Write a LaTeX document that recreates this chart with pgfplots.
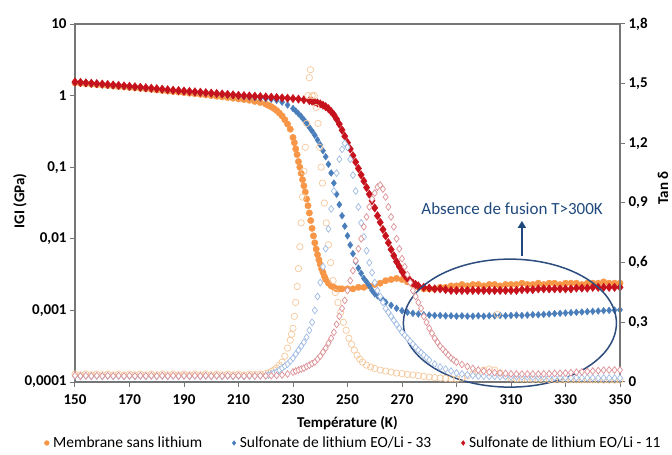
\documentclass[border=0pt]{standalone}
\usepackage{fontspec}
\setmainfont{Carlito}
\usepackage{pgfplots}
\usepackage{pgfplotstable}
\pgfplotsset{compat=1.18}
\usetikzlibrary{arrows.meta}

\definecolor{axisgray}{RGB}{118,118,118}
\definecolor{orangeG}{RGB}{247,150,70}
\definecolor{blueG}{RGB}{74,126,187}
\definecolor{redG}{RGB}{198,18,28}
\definecolor{orangeT}{RGB}{245,200,155}
\definecolor{blueT}{RGB}{160,188,228}
\definecolor{redT}{RGB}{222,145,150}
\definecolor{annot}{RGB}{31,73,125}
\definecolor{ellip}{RGB}{44,77,125}

% |G| data (GPa)
\pgfplotstableread{
T G
150 1.50
152 1.48
154 1.46
156 1.44
158 1.42
160 1.40
162 1.38
164 1.36
166 1.34
168 1.32
170 1.30
172 1.28
174 1.26
176 1.24
178 1.22
180 1.20
182 1.18
184 1.16
186 1.14
188 1.12
190 1.10
192 1.08
194 1.06
196 1.04
198 1.02
200 1.00
202 0.98
204 0.96
206 0.94
208 0.92
210 0.90
212 0.88
214 0.86
216 0.83
218 0.80
220 0.76
221 0.73
222 0.70
223 0.66
224 0.62
225 0.57
226 0.52
227 0.46
228 0.40
229 0.34
230 0.26
230.5 0.22
231 0.18
231.5 0.15
232 0.12
232.5 0.10
233 0.082
233.5 0.067
234 0.055
234.5 0.045
235 0.036
235.5 0.029
236 0.023
236.5 0.018
237 0.014
237.5 0.011
238 0.0088
238.5 0.0072
239 0.0060
239.5 0.0051
240 0.0044
240.5 0.0038
241 0.0034
241.5 0.0030
242 0.0027
243 0.0024
244 0.0022
245 0.0021
246 0.0020
247 0.0020
248 0.0020
250 0.0020
252 0.0020
254 0.0021
256 0.0021
258 0.0022
260 0.0023
262 0.0024
264 0.0026
266 0.0027
268 0.0028
270 0.0027
272 0.0025
274 0.0023
276 0.0021
278 0.0020
280 0.0020
282 0.0020
284 0.0021
286 0.0021
288 0.0022
290 0.0022
292 0.0023
294 0.0022
296 0.0023
298 0.0023
300 0.0022
302 0.0023
304 0.0023
306 0.0022
308 0.0023
310 0.0023
312 0.0023
314 0.0024
316 0.0023
318 0.0023
320 0.0024
322 0.0023
324 0.0024
326 0.0024
328 0.0023
330 0.0024
332 0.0024
334 0.0024
336 0.0023
338 0.0024
340 0.0024
342 0.0024
344 0.0025
346 0.0024
348 0.0024
350 0.0024
}\orangeG

\pgfplotstableread{
T G
150 1.52
152 1.50
154 1.48
156 1.46
158 1.44
160 1.42
162 1.40
164 1.38
166 1.36
168 1.34
170 1.32
172 1.30
174 1.28
176 1.26
178 1.245
180 1.23
182 1.21
184 1.19
186 1.175
188 1.16
190 1.14
192 1.125
194 1.11
196 1.09
198 1.075
200 1.06
202 1.045
204 1.03
206 1.015
208 1.00
210 0.985
212 0.97
214 0.955
216 0.94
218 0.925
220 0.91
222 0.89
224 0.86
226 0.81
228 0.74
230 0.66
231 0.61
232 0.56
233 0.51
234 0.46
235 0.41
236 0.36
237 0.32
238 0.28
239 0.24
240 0.205
241 0.17
242 0.14
243 0.11
244 0.083
245 0.060
246 0.042
247 0.030
248 0.021
249 0.015
250 0.011
251 0.0082
252 0.0062
253 0.0048
254 0.0039
255 0.0033
256 0.0028
257 0.0025
258 0.0022
259 0.0019
260 0.0017
261 0.0016
262 0.0015
263 0.0014
264 0.0013
266 0.00118
268 0.00107
270 0.00099
272 0.00094
274 0.00091
276 0.00089
278 0.00087
280 0.00086
282 0.00085
284 0.00085
286 0.00084
288 0.00084
290 0.00083
292 0.00084
294 0.00083
296 0.00083
298 0.00084
300 0.00083
302 0.00084
304 0.00084
306 0.00085
308 0.00084
310 0.00085
312 0.00086
314 0.00085
316 0.00086
318 0.00087
320 0.00087
322 0.00088
324 0.00089
326 0.00090
328 0.00091
330 0.00092
332 0.00093
334 0.00094
336 0.00095
338 0.00096
340 0.00097
342 0.00098
344 0.00099
346 0.00100
348 0.00101
350 0.00102
}\blueG

\pgfplotstableread{
T G
150 1.55
152 1.53
154 1.51
156 1.49
158 1.47
160 1.45
162 1.43
164 1.41
166 1.39
168 1.37
170 1.35
172 1.33
174 1.31
176 1.29
178 1.27
180 1.25
182 1.23
184 1.21
186 1.19
188 1.175
190 1.16
192 1.145
194 1.13
196 1.115
198 1.10
200 1.085
202 1.07
204 1.055
206 1.04
208 1.025
210 1.01
212 1.00
214 0.99
216 0.98
218 0.97
220 0.96
222 0.95
224 0.94
226 0.93
228 0.92
230 0.91
232 0.895
234 0.875
236 0.85
237 0.835
238 0.815
239 0.79
240 0.765
241 0.735
242 0.70
243 0.655
244 0.60
245 0.54
246 0.47
247 0.40
248 0.33
249 0.27
250 0.22
251 0.18
252 0.145
253 0.118
254 0.096
255 0.078
256 0.064
257 0.052
258 0.042
259 0.034
260 0.027
261 0.021
262 0.017
263 0.0135
264 0.011
265 0.0088
266 0.0071
267 0.0058
268 0.0048
269 0.0041
270 0.0035
271 0.0031
272 0.0028
273 0.0026
274 0.0024
275 0.0023
276 0.0022
278 0.0021
280 0.00205
282 0.0020
284 0.0020
286 0.00195
288 0.0019
290 0.0019
292 0.0019
294 0.0019
296 0.0019
298 0.0019
300 0.0019
302 0.0019
304 0.0019
306 0.0019
308 0.0019
310 0.0019
312 0.0019
314 0.00195
316 0.00195
318 0.00195
320 0.0020
322 0.0020
324 0.0020
326 0.0020
328 0.0020
330 0.0020
332 0.0020
334 0.00205
336 0.00205
338 0.00205
340 0.0021
342 0.0021
344 0.0021
346 0.0021
348 0.0021
350 0.0021
}\redG

% tan delta data
\pgfplotstableread{
T tan
150 0.040
152 0.036
154 0.040
156 0.036
158 0.040
160 0.036
162 0.040
164 0.036
166 0.040
168 0.036
170 0.040
172 0.036
174 0.040
176 0.036
178 0.040
180 0.036
182 0.040
184 0.036
186 0.040
188 0.036
190 0.040
192 0.036
194 0.040
196 0.036
198 0.040
200 0.036
202 0.040
204 0.036
206 0.040
208 0.036
210 0.040
212 0.036
214 0.040
216 0.038
218 0.040
220 0.042
221 0.046
222 0.052
223 0.060
224 0.070
225 0.085
226 0.100
227 0.130
228 0.170
229 0.210
229.5 0.240
230 0.270
230.5 0.330
231 0.400
231.5 0.480
232 0.570
232.5 0.680
233 0.800
233.5 0.930
234 1.060
234.5 1.180
235 1.300
235.5 1.440
236 1.530
236.4 1.570
237 1.440
237.8 1.440
238.5 1.380
239.2 1.300
239.8 1.180
240.3 1.080
240.8 1.000
241.5 0.900
242.2 0.800
243 0.690
243.8 0.600
244.7 0.510
245.5 0.450
246.5 0.400
247.5 0.350
248.5 0.300
249.5 0.260
250.5 0.220
251.5 0.190
252.5 0.160
253.5 0.135
254.5 0.115
255.5 0.100
257 0.085
258.5 0.075
260 0.068
262 0.060
264 0.055
266 0.050
268 0.045
270 0.042
272 0.038
274 0.035
276 0.032
278 0.028
280 0.025
282 0.022
284 0.020
286 0.018
288 0.016
290 0.015
292 0.020
294 0.030
296 0.040
298 0.050
300 0.060
302 0.065
304 0.060
305 0.340
306 0.045
308 0.030
310 0.020
312 0.016
314 0.015
316 0.015
318 0.014
320 0.014
322 0.013
324 0.013
326 0.013
328 0.012
330 0.012
332 0.012
334 0.011
336 0.011
338 0.011
340 0.011
342 0.010
344 0.010
346 0.010
348 0.010
350 0.010
}\orangeT

\pgfplotstableread{
T tan
150 0.030
152 0.028
154 0.030
156 0.028
158 0.030
160 0.028
162 0.030
164 0.028
166 0.030
168 0.028
170 0.030
172 0.028
174 0.030
176 0.028
178 0.030
180 0.028
182 0.030
184 0.028
186 0.030
188 0.028
190 0.030
192 0.028
194 0.030
196 0.028
198 0.030
200 0.028
202 0.030
204 0.028
206 0.030
208 0.028
210 0.030
212 0.028
214 0.030
216 0.030
218 0.031
220 0.032
221 0.035
222 0.040
223 0.045
224 0.050
225 0.060
226 0.070
227 0.080
228 0.090
229 0.105
230 0.120
231 0.140
232 0.160
233 0.180
234 0.200
235 0.225
236 0.260
237 0.300
238 0.360
239 0.430
240 0.500
241 0.580
242 0.670
243 0.770
244 0.870
245 0.960
246 1.050
247 1.120
248 1.170
249 1.200
250 1.180
251 1.120
252 1.040
253 0.960
254 0.880
255 0.800
256 0.730
257 0.660
258 0.600
259 0.550
260 0.500
261 0.460
262 0.430
263 0.400
264 0.370
265 0.350
266 0.330
267 0.310
268 0.290
269 0.270
270 0.250
271 0.235
272 0.220
273 0.205
274 0.190
275 0.175
276 0.160
277 0.148
278 0.135
279 0.122
280 0.110
282 0.090
284 0.075
286 0.065
288 0.055
290 0.045
292 0.040
294 0.036
296 0.033
298 0.030
300 0.029
302 0.028
304 0.028
306 0.027
308 0.027
310 0.026
312 0.026
314 0.025
316 0.025
318 0.024
320 0.024
322 0.024
324 0.023
326 0.023
328 0.023
330 0.022
332 0.022
334 0.022
336 0.021
338 0.021
340 0.021
342 0.020
344 0.020
346 0.020
348 0.020
350 0.020
}\blueT

\pgfplotstableread{
T tan
150 0.032
152 0.030
154 0.032
156 0.030
158 0.032
160 0.030
162 0.032
164 0.030
166 0.032
168 0.030
170 0.032
172 0.030
174 0.032
176 0.030
178 0.032
180 0.030
182 0.032
184 0.030
186 0.032
188 0.030
190 0.032
192 0.030
194 0.032
196 0.030
198 0.032
200 0.030
202 0.032
204 0.030
206 0.032
208 0.030
210 0.032
212 0.030
214 0.032
216 0.030
218 0.032
220 0.031
222 0.032
224 0.033
226 0.035
228 0.040
230 0.050
231 0.055
232 0.060
233 0.065
234 0.070
235 0.078
236 0.085
237 0.093
238 0.100
239 0.115
240 0.130
241 0.150
242 0.170
243 0.195
244 0.220
245 0.250
246 0.290
247 0.330
248 0.370
249 0.410
250 0.460
251 0.510
252 0.560
253 0.610
254 0.670
255 0.720
256 0.780
257 0.830
258 0.880
259 0.920
260 0.950
261 0.980
262 0.990
263 0.970
264 0.930
265 0.880
266 0.830
267 0.780
268 0.720
269 0.670
270 0.620
271 0.580
272 0.540
273 0.500
274 0.460
275 0.430
276 0.400
277 0.370
278 0.330
279 0.300
280 0.270
281 0.245
282 0.220
283 0.200
284 0.180
285 0.165
286 0.150
287 0.135
288 0.120
289 0.110
290 0.100
292 0.088
294 0.078
296 0.068
298 0.060
300 0.055
302 0.050
304 0.047
306 0.045
308 0.043
310 0.041
312 0.040
314 0.040
316 0.040
318 0.040
320 0.040
322 0.041
324 0.042
326 0.043
328 0.044
330 0.045
332 0.047
334 0.049
336 0.051
338 0.053
340 0.055
342 0.057
344 0.059
346 0.060
348 0.060
350 0.060
}\redT

\pgfplotsset{
  base/.style={
    scale only axis, width=545pt, height=358pt,
    at={(0,0)}, anchor=south west,
    xmin=150, xmax=350, clip=false,
    axis line style={draw=axisgray, line width=1.3pt},
    tick style={draw=axisgray, line width=1pt},
    major tick length=5pt, tick align=outside,
    ticklabel style={font=\bfseries\fontsize{15}{15}\selectfont},
    label style={font=\bfseries\fontsize{15}{15}\selectfont},
  }
}

\begin{document}
\begin{tikzpicture}
\begin{axis}[base,
  ymode=log, ymin=1e-4, ymax=10,
  xtick={150,170,190,210,230,250,270,290,310,330,350},
  xticklabels={150,170,190,210,230,250,270,290,310,330,350},
  xticklabel style={yshift=-4pt},
  ytick={1e-4,1e-3,1e-2,1e-1,1,10},
  yticklabels={{0,0001},{0,001},{0,01},{0,1},1,10},
  yminorticks=false,
  xtick pos=bottom, ytick pos=left,
  xlabel={Température (K)},
  ylabel={IGI (GPa)},
  xlabel style={at={(axis description cs:0.5,-0.1145)}, anchor=center},
  ylabel style={at={(axis description cs:-0.1009,0.5056)}, anchor=center},
  legend style={at={(axis description cs:0.5,-0.1704)}, anchor=center, xshift=6pt,
    legend columns=3, draw=none, fill=none,
    font=\fontsize{15.5}{16}\selectfont,
    /tikz/every even column/.append style={column sep=28pt},
    /tikz/every odd column/.append style={column sep=2pt}},
  legend image code/.code={\draw[#1, mark size=2.4pt] plot coordinates {(0pt,0pt)};},
]
\addplot[only marks, mark=*, mark size=3.2pt, color=orangeG] table[x=T,y=G]{\orangeG};
\addlegendentry{Membrane sans lithium}
\addplot[only marks, mark=diamond*, mark size=3.4pt, color=blueG] table[x=T,y=G]{\blueG};
\addlegendentry{Sulfonate de lithium EO/Li - 33}
\addplot[only marks, mark=diamond*, mark size=4.2pt, color=redG] table[x=T,y=G]{\redG};
\addlegendentry{Sulfonate de lithium EO/Li - 11}
\end{axis}

\begin{axis}[base,
  ymin=0, ymax=1.8,
  axis y line*=right, axis x line=none,
  ytick={0,0.3,0.6,0.9,1.2,1.5,1.8},
  yticklabels={0,{0,3},{0,6},{0,9},{1,2},{1,5},{1,8}},
  ylabel={Tan δ},
  ylabel style={at={(axis description cs:1.0790,0.542)}, anchor=center},
]
\addplot[only marks, mark=o, mark size=3.2pt, draw=orangeT, mark options={fill=white, line width=0.7pt}] table[x=T,y=tan]{\orangeT};
\addplot[only marks, mark=diamond*, mark size=3.4pt, draw=blueT, mark options={fill=white, line width=0.7pt}] table[x=T,y=tan]{\blueT};
\addplot[only marks, mark=diamond*, mark size=3.4pt, draw=redT, mark options={fill=white, line width=0.7pt}] table[x=T,y=tan]{\redT};
\draw[ellip, line width=1.5pt] (axis cs:309.6,0.296) ellipse [x radius=106.5pt, y radius=64pt];
\draw[annot, line width=2pt, -{Triangle[width=8pt,length=7pt]}] (axis cs:314,0.633) -- (axis cs:314,0.81);
\node[text=annot, font=\fontsize{17}{17}\selectfont] at (axis cs:310.4,0.87) {Absence de fusion T>300K};
\end{axis}
\pgfresetboundingbox
\useasboundingbox (-75pt,-73pt) rectangle (597pt,382pt);
\end{tikzpicture}
\end{document}
